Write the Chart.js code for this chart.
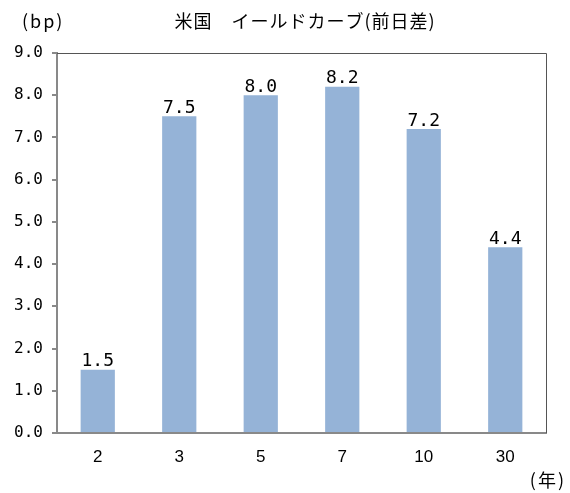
<!DOCTYPE html>
<html>
<head>
<meta charset="utf-8">
<script src="https://cdn.jsdelivr.net/npm/chart.js@4"></script>
<style>
  html, body { margin: 0; padding: 0; background: #fff; }
  #wrap { width: 570px; height: 493px; }
</style>
</head>
<body>
<div id="wrap"><canvas id="curveChart"></canvas></div>
<script>
// 年限と前日差(bp)
const maturities = ['2', '3', '5', '7', '10', '30'];
const changes = [1.5, 7.5, 8.0, 8.2, 7.2, 4.4];
const titleText = '米国\u3000イールドカーブ(前日差)';
const yUnit = '(bp)';
const xUnit = '(年)';

const barColor = '#95B3D7';
const axisColor = '#898989';

// titles, units and top/right frame
const decorPlugin = {
    id: 'decor',
    afterDraw(chart) {
        const ctx = chart.ctx;
        const a = chart.chartArea;
        ctx.save();
        ctx.strokeStyle = '#555';
        ctx.lineWidth = 1;
        ctx.beginPath();
        ctx.moveTo(a.left, a.top + 0.5);
        ctx.lineTo(a.right + 0.5, a.top + 0.5);
        ctx.lineTo(a.right + 0.5, a.bottom);
        ctx.stroke();

        ctx.fillStyle = '#000';
        ctx.textBaseline = 'middle';
        ctx.font = '18px "Noto Sans CJK JP"';
        ctx.letterSpacing = '1px';
        ctx.textAlign = 'center';
        ctx.fillText(titleText, 305, 21);
        ctx.letterSpacing = '2px';
        ctx.textAlign = 'left';
        ctx.fillText(yUnit, 22, 21);
        ctx.textAlign = 'right';
        ctx.fillText(xUnit, 566, 480);
        ctx.restore();
    }
};

// value labels above bars
const valueLabels = {
    id: 'valueLabels',
    afterDatasetsDraw(chart) {
        const ctx = chart.ctx;
        const meta = chart.getDatasetMeta(0);
        ctx.save();
        ctx.fillStyle = '#000';
        ctx.font = '18px "DejaVu Sans Mono"';
        ctx.textAlign = 'center';
        ctx.textBaseline = 'bottom';
        meta.data.forEach(function (bar, i) {
            ctx.fillText(changes[i].toFixed(1), bar.x, bar.y + 1);
        });
        ctx.restore();
    }
};

new Chart(document.getElementById('curveChart'), {
    type: 'bar',
    data: {
        labels: maturities,
        datasets: [{
            data: changes,
            backgroundColor: barColor,
            borderWidth: 0,
            barPercentage: 0.42,
            categoryPercentage: 1.0
        }]
    },
    options: {
        responsive: true,
        maintainAspectRatio: false,
        animation: false,
        layout: { padding: { top: 53, right: 24, bottom: 0, left: 0 } },
        plugins: {
            legend: { display: false },
            tooltip: { enabled: false }
        },
        scales: {
            x: {
                grid: { display: false, drawTicks: false },
                border: { color: axisColor, width: 2 },
                ticks: {
                    color: '#000',
                    padding: 14,
                    font: { family: '"Liberation Sans"', size: 17 }
                },
                afterFit: function (scale) { scale.height = 60; }
            },
            y: {
                min: 0,
                max: 9,
                grid: { drawOnChartArea: false, drawTicks: true, tickLength: 5, color: axisColor, lineWidth: 2 },
                border: { color: axisColor, width: 2 },
                ticks: {
                    stepSize: 1,
                    color: '#000',
                    padding: 9,
                    font: { family: '"DejaVu Sans Mono"', size: 16 },
                    callback: function (v) { return v.toFixed(1); }
                },
                afterFit: function (scale) { scale.width = 57; }
            }
        }
    },
    plugins: [decorPlugin, valueLabels]
});
</script>
</body>
</html>
